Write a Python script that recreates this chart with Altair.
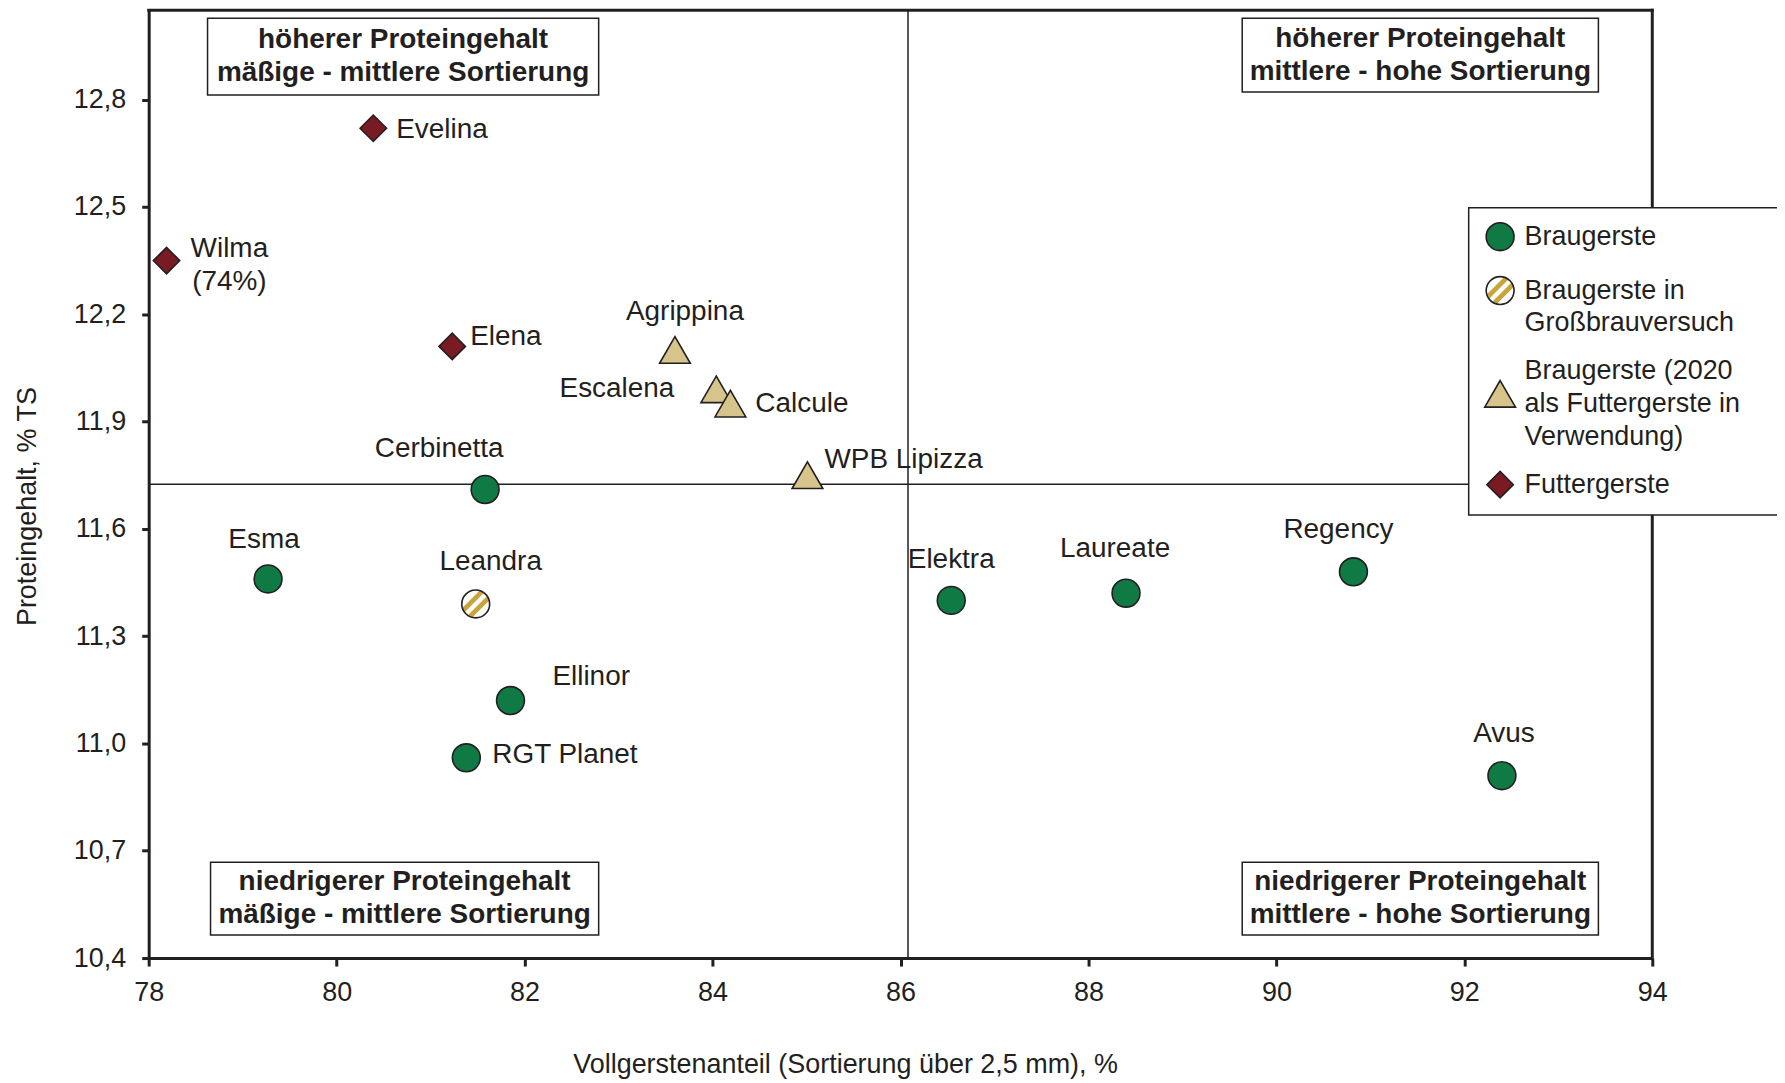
import altair as alt
import pandas as pd

# ------------------------------------------------------------------ data
NAMES = ["Evelina", "Wilma", "Elena", "Agrippina", "Escalena", "Calcule",
         "WPB Lipizza", "Cerbinetta", "Esma", "Leandra", "Ellinor",
         "RGT Planet", "Elektra", "Laureate", "Regency", "Avus"]
LABELS = ["Evelina", "Wilma\n(74%)", "Elena", "Agrippina", "Escalena", "Calcule",
          "WPB Lipizza", "Cerbinetta", "Esma", "Leandra", "Ellinor",
          "RGT Planet", "Elektra", "Laureate", "Regency", "Avus"]
SORTIERUNG = [80.39, 78.19, 81.23, 83.60, 84.04, 84.19, 85.01, 81.58,
              79.27, 81.48, 81.85, 81.38, 86.54, 88.40, 90.82, 92.40]
PROTEIN = [12.72, 12.35, 12.11, 12.10, 11.99, 11.95, 11.75, 11.71,
           11.46, 11.39, 11.12, 10.96, 11.40, 11.42, 11.48, 10.91]
CATEGORIES = ["Braugerste",
              "Braugerste in Großbrauversuch",
              "Braugerste (2020 als Futtergerste in Verwendung)",
              "Futtergerste"]
GRUPPE = [CATEGORIES[3], CATEGORIES[3], CATEGORIES[3], CATEGORIES[2],
          CATEGORIES[2], CATEGORIES[2], CATEGORIES[2], CATEGORIES[0],
          CATEGORIES[0], CATEGORIES[1], CATEGORIES[0], CATEGORIES[0],
          CATEGORIES[0], CATEGORIES[0], CATEGORIES[0], CATEGORIES[0]]
LEGEND_LINES = [["Braugerste"],
                ["Braugerste in", "Großbrauversuch"],
                ["Braugerste (2020", "als Futtergerste in", "Verwendung)"],
                ["Futtergerste"]]

X_TICKS = [78, 80, 82, 84, 86, 88, 90, 92, 94]
Y_TICKS = [10.4, 10.7, 11.0, 11.3, 11.6, 11.9, 12.2, 12.5, 12.8]
X_DOMAIN = [78, 94]
Y_DOMAIN = [10.4, 13.05]
REF_X = 86.08
REF_Y = 11.725

QUADRANT_TEXT = ["höherer Proteingehalt\nmäßige - mittlere Sortierung",
                 "höherer Proteingehalt\nmittlere - hohe Sortierung",
                 "niedrigerer Proteingehalt\nmäßige - mittlere Sortierung",
                 "niedrigerer Proteingehalt\nmittlere - hohe Sortierung"]

X_TITLE = "Vollgerstenanteil (Sortierung über 2,5 mm), %"
Y_TITLE = "Proteingehalt, % TS"

# ------------------------------------------------------------------ style / layout
FONT = "Liberation Sans"
INK = "#231f20"
GREEN = "#0f7a43"
TAN = "#d6c48b"
RED = "#7a1b23"
GOLD = "#c9a43a"
W, H = 1507, 950
LINE_H = 33
SIZES = [780, 780, 950, 700]

# the legend shows the triangle lower than its first label line: the triangle
# symbol path is drawn shifted down and the data triangles are moved back up.
TRI_SHIFT = 23  # px
_r = (SIZES[2] ** 0.5) / 2
_s = TRI_SHIFT / _r
TRI_PATH = f"M0,{-0.866 + _s:.4f}L-1,{0.866 + _s:.4f}L1,{0.866 + _s:.4f}Z"

# label placement (dx, dy in px, align)
LABEL_POS = {
    "Evelina": (23, 2, "left"), "Wilma": (63, -12, "center"),
    "Elena": (18, -9, "left"), "Agrippina": (10, -38, "center"),
    "Escalena": (-42, 0, "right"), "Calcule": (25, 0, "left"),
    "WPB Lipizza": (17, -15, "left"), "Cerbinetta": (-46, -41, "center"),
    "Esma": (-4, -39, "center"), "Leandra": (15, -42, "center"),
    "Ellinor": (42, -24, "left"), "RGT Planet": (26, -3, "left"),
    "Elektra": (0, -40, "center"), "Laureate": (-11, -44, "center"),
    "Regency": (-15, -42, "center"), "Avus": (2, -42, "center"),
}
# quadrant boxes in px relative to plot origin: x, x2, y, y2
QUADRANT_BOX = [(59, 451, 8, 85), (1096, 1453, 8, 82),
                (62, 451, 854, 927), (1096, 1453, 854, 927)]
LEGEND_BOX = (1323, 1800, 198, 506)

df = pd.DataFrame({"name": NAMES, "label": LABELS, "x": SORTIERUNG,
                   "y": PROTEIN, "gruppe": GRUPPE})
one = pd.DataFrame({"k": [0]})  # single row for annotation marks

stripe = ("{gradient: 'linear', x1: 0, y1: 0, x2: 1, y2: 1, stops: ["
          "{offset: 0, color: 'white'}, {offset: 0.32, color: 'white'},"
          f"{{offset: 0.34, color: '{GOLD}'}}, {{offset: 0.44, color: '{GOLD}'}},"
          "{offset: 0.46, color: 'white'}, {offset: 0.55, color: 'white'},"
          f"{{offset: 0.57, color: '{GOLD}'}}, {{offset: 0.67, color: '{GOLD}'}},"
          "{offset: 0.69, color: 'white'}, {offset: 1, color: 'white'}]}")

label_expr = ""
for cat, lines in zip(CATEGORIES, LEGEND_LINES):
    if len(lines) > 1:
        arr = "[" + ", ".join("'" + l + "'" for l in lines) + "]"
        label_expr += f"datum.label == '{cat}' ? {arr} : "
label_expr += "datum.label"

legend = alt.Legend(title=None, orient="none", legendX=1338, legendY=212,
                    labelFont=FONT, labelFontSize=27, labelColor=INK,
                    labelExpr=label_expr, labelLimit=500, labelOffset=8,
                    rowPadding=18, padding=0, symbolOpacity=1,
                    symbolStrokeColor=INK, symbolStrokeWidth=1.6)

xs = alt.Scale(domain=X_DOMAIN, nice=False, zero=False)
ys = alt.Scale(domain=Y_DOMAIN, nice=False, zero=False)

x_enc = alt.X("x:Q", scale=xs, title=X_TITLE,
              axis=alt.Axis(values=X_TICKS, format="d", tickSize=8, labelFlush=False,
                            labelPadding=14, titleX=698, titleY=107,
                            titleBaseline="middle", titleAlign="center"))
y_enc = alt.Y("y:Q", scale=ys, title=Y_TITLE,
              axis=alt.Axis(values=Y_TICKS, tickSize=7, labelPadding=16, labelFlush=False,
                            labelExpr="replace(format(datum.value, '.1f'), '.', ',')",
                            titleX=-121, titleY=497, titleAngle=270,
                            titleBaseline="middle", titleAlign="center"))

fill_enc = alt.Fill("gruppe:N", scale=alt.Scale(domain=CATEGORIES,
                                               range=[GREEN, {"expr": stripe}, TAN, RED]),
                    legend=legend)
stroke_enc = alt.Stroke("gruppe:N", scale=alt.Scale(domain=CATEGORIES, range=[INK] * 4),
                        legend=legend)
shape_enc = alt.Shape("gruppe:N", scale=alt.Scale(domain=CATEGORIES,
                                                 range=["circle", "circle", TRI_PATH, "diamond"]),
                      legend=legend)
size_enc = alt.Size("gruppe:N", scale=alt.Scale(type="ordinal", domain=CATEGORIES, range=SIZES),
                    legend=legend)

base = alt.Chart(df)

layers = []
# reference lines
layers.append(alt.Chart(one).mark_rule(color=INK, strokeWidth=1.5).encode(y=alt.datum(REF_Y)))
layers.append(alt.Chart(one).mark_rule(color=INK, strokeWidth=1.5).encode(x=alt.datum(REF_X)))
# frame top and right
layers.append(alt.Chart(one).mark_rule(color=INK, strokeWidth=3, strokeCap="square").encode(y=alt.datum(Y_DOMAIN[1])))
layers.append(alt.Chart(one).mark_rule(color=INK, strokeWidth=3, strokeCap="square").encode(x=alt.datum(X_DOMAIN[1])))

# quadrant boxes (two-line text block, first line placed above the box centre)
for txt, (bx, bx2, by, by2) in zip(QUADRANT_TEXT, QUADRANT_BOX):
    layers.append(alt.Chart(one).mark_rect(fill="white", stroke=INK, strokeWidth=1.5).encode(
        x=alt.value(bx), x2=alt.value(bx2), y=alt.value(by), y2=alt.value(by2)))
    layers.append(alt.Chart(one).mark_text(font=FONT, fontSize=28, fontWeight="bold", color=INK,
                                           lineBreak="\n", lineHeight=LINE_H, align="center",
                                           baseline="middle").encode(
        x=alt.value((bx + bx2) / 2), y=alt.value((by + by2) / 2 - LINE_H / 2),
        text=alt.value(txt)))

# points: circles and diamonds
layers.append(base.transform_filter(alt.datum.gruppe != CATEGORIES[2]).mark_point(
    filled=True, opacity=1, strokeWidth=1.6).encode(
    x=x_enc, y=y_enc, fill=fill_enc, stroke=stroke_enc, shape=shape_enc, size=size_enc))
# points: triangles (shifted path compensated)
layers.append(base.transform_filter(alt.datum.gruppe == CATEGORIES[2]).mark_point(
    filled=True, opacity=1, strokeWidth=1.6).encode(
    x=x_enc, y=y_enc, fill=fill_enc, stroke=stroke_enc, shape=shape_enc, size=size_enc,
    yOffset=alt.value(-TRI_SHIFT)))

# point labels
for n in NAMES:
    dx, dy, al = LABEL_POS[n]
    layers.append(base.transform_filter(alt.datum.name == n).mark_text(
        font=FONT, fontSize=28, color=INK, dx=dx, dy=dy, align=al, baseline="middle",
        lineBreak="\n", lineHeight=LINE_H).encode(x="x:Q", y="y:Q", text="label:N"))

# legend background box
lx, lx2, ly, ly2 = LEGEND_BOX
layers.append(alt.Chart(one).mark_rect(fill="white", stroke=INK, strokeWidth=1.5).encode(
    x=alt.value(lx), x2=alt.value(lx2), y=alt.value(ly), y2=alt.value(ly2)))

chart = alt.layer(*layers).properties(
    width=W, height=H,
    padding={"left": 141, "top": 1, "right": 125, "bottom": 121},
    autosize=alt.AutoSizeParams(type="none"),
    background="white",
).configure(
    style={"guide-label": {"lineHeight": LINE_H}}
).configure_view(strokeWidth=0).configure_axis(
    grid=False, domainColor=INK, domainWidth=3, tickColor=INK, tickWidth=3,
    labelFont=FONT, labelFontSize=27, labelColor=INK,
    titleFont=FONT, titleFontSize=27, titleColor=INK, titleFontWeight="normal",
)

chart.save("out.html", embed_options={"renderer": "svg", "actions": False})
